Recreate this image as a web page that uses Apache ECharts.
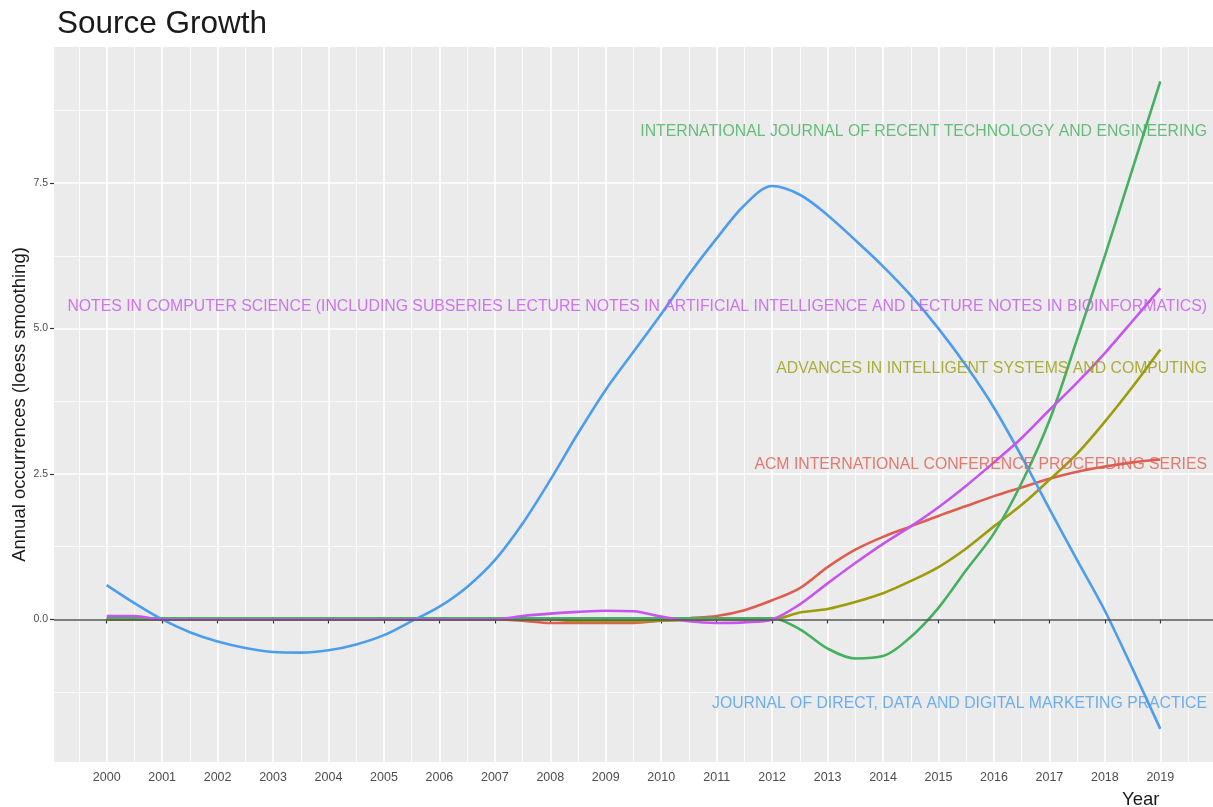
<!DOCTYPE html>
<html>
<head>
<meta charset="utf-8">
<script src="https://cdn.jsdelivr.net/npm/echarts@6/dist/echarts.min.js"></script>
<style>
html,body{margin:0;padding:0;background:#fff;}
#chart{width:1213px;height:807px;}
</style>
</head>
<body>
<div id="chart"></div>
<script>
// ---- data ----
var years = [2000,2000.5,2001,2001.5,2002,2002.5,2003,2003.5,2004,2004.5,2005,2005.5,2006,2006.5,2007,2007.5,2008,2008.5,2009,2009.5,2010,2010.5,2011,2011.5,2012,2012.5,2013,2013.5,2014,2014.5,2015,2015.5,2016,2016.5,2017,2017.5,2018,2018.5,2019];
var tickYears = [2000,2001,2002,2003,2004,2005,2006,2007,2008,2009,2010,2011,2012,2013,2014,2015,2016,2017,2018,2019];
var minorYears = [1999.5,2000.5,2001.5,2002.5,2003.5,2004.5,2005.5,2006.5,2007.5,2008.5,2009.5,2010.5,2011.5,2012.5,2013.5,2014.5,2015.5,2016.5,2017.5,2018.5,2019.5];
var yTicks = [0,2.5,5,7.5];
var yMinor = [-1.25,1.25,3.75,6.25,8.75];

var seriesNames = [
  'ACM INTERNATIONAL CONFERENCE PROCEEDING SERIES',
  'ADVANCES IN INTELLIGENT SYSTEMS AND COMPUTING',
  'INTERNATIONAL JOURNAL OF RECENT TECHNOLOGY AND ENGINEERING',
  'JOURNAL OF DIRECT, DATA AND DIGITAL MARKETING PRACTICE',
  'NOTES IN COMPUTER SCIENCE (INCLUDING SUBSERIES LECTURE NOTES IN ARTIFICIAL INTELLIGENCE AND LECTURE NOTES IN BIOINFORMATICS)'
];
var acm = [0,0,0,0,0,0,0,0,0,0,0,0,0,0,0,-0.02,-0.06,-0.06,-0.06,-0.06,-0.02,0.02,0.06,0.16,0.33,0.54,0.9,1.2,1.42,1.6,1.78,1.95,2.12,2.27,2.42,2.54,2.63,2.7,2.75];
var advances = [0,0,0,0,0,0,0,0,0,0,0,0,0,0,0,0,0,-0.03,-0.03,-0.03,-0.02,-0.01,0,0,0,0.12,0.18,0.3,0.45,0.66,0.9,1.22,1.6,1.97,2.4,2.85,3.4,4.0,4.64];
var ijrte = [0.02,0.02,0.02,0.02,0.02,0.02,0.02,0.02,0.02,0.02,0.02,0.02,0.02,0.02,0.02,0.02,0.02,0.02,0.02,0.02,0.02,0.02,0.02,0.02,0.02,-0.17,-0.5,-0.67,-0.63,-0.3,0.2,0.85,1.48,2.35,3.42,4.82,6.25,7.75,9.25];
var journal = [0.59,0.28,0.0,-0.22,-0.38,-0.49,-0.56,-0.57,-0.53,-0.43,-0.27,-0.03,0.22,0.56,1.02,1.65,2.4,3.2,3.95,4.6,5.25,5.93,6.55,7.12,7.45,7.3,6.95,6.52,6.07,5.57,5.0,4.36,3.64,2.8,1.9,1.02,0.15,-0.85,-1.88];
var lncs = [0.06,0.06,0,0,0,0,0,0,0,0,0,0,0,0,0,0.06,0.1,0.13,0.15,0.14,0.05,-0.03,-0.06,-0.05,0,0.26,0.62,0.97,1.3,1.6,1.93,2.3,2.7,3.12,3.6,4.07,4.58,5.13,5.69];
var seriesValues = [acm, advances, ijrte, journal, lncs];
var labelValues = [2.66, 4.31, 8.38, -1.45, 5.38];

// ---- style ----
var colors = ['#DD5E50', '#9C9C0C', '#45B060', '#4C9DEC', '#C655EE'];
var FONT = 'Liberation Sans, Arial, sans-serif';
var X_MIN = 1999.05, X_MAX = 2019.95, Y_MIN = -2.45, Y_MAX = 9.84;

var series = [];
seriesValues.forEach(function (vals, i) {
  var s = {
    type: 'line',
    name: seriesNames[i],
    xAxisIndex: 0, yAxisIndex: 0,
    data: years.map(function (y, k) { return [y, vals[k]]; }),
    showSymbol: false,
    smooth: 0.33,
    lineStyle: { color: colors[i], width: 2.6 },
    itemStyle: { color: colors[i] },
    silent: true,
    z: 3
  };
  if (i === 0) {
    s.markLine = {
      silent: true, symbol: 'none', animation: false,
      label: { show: false },
      lineStyle: { color: '#555555', width: 1.6, type: 'solid' },
      data: [{ yAxis: 0 }]
    };
  }
  series.push(s);
});
seriesNames.forEach(function (n, i) {
  series.push({
    type: 'scatter',
    xAxisIndex: 0, yAxisIndex: 0,
    symbolSize: 0,
    silent: true,
    z: 4,
    data: [[X_MAX, labelValues[i]]],
    label: {
      show: true, position: 'left', distance: 6,
      formatter: n, color: colors[i], fontSize: 15.8, fontFamily: FONT
    }
  });
});

var option = {
  animation: false,
  title: [
    { text: 'Source Growth', left: 52, top: 3,
      textStyle: { fontSize: 31.5, fontWeight: 'normal', color: '#1a1a1a', fontFamily: FONT } },
    { text: 'Year', left: 1117, top: 785,
      textStyle: { fontSize: 18.5, fontWeight: 'normal', color: '#1a1a1a', fontFamily: FONT } }
  ],
  grid: { left: 54, right: 0, top: 47, bottom: 45, show: true, backgroundColor: '#EBEBEB', borderWidth: 0,
    containLabel: false, outerBoundsMode: 'none' },
  xAxis: [
    { type: 'value', min: X_MIN, max: X_MAX,
      axisLine: { show: false },
      axisTick: { show: true, length: 4, customValues: tickYears, lineStyle: { color: '#333', width: 1.2 } },
      axisLabel: { customValues: tickYears, fontSize: 12.5, color: '#4d4d4d', margin: 9, fontFamily: FONT,
        formatter: function (v) { return String(Math.round(v)); } },
      splitLine: { show: true, lineStyle: { color: '#ffffff', width: 1.6 } } },
    { type: 'value', min: X_MIN, max: X_MAX, position: 'bottom',
      axisLine: { show: false },
      axisTick: { show: false, customValues: minorYears },
      axisLabel: { show: false, customValues: minorYears },
      splitLine: { show: true, lineStyle: { color: '#ffffff', width: 0.8 } } }
  ],
  yAxis: [
    { type: 'value', min: Y_MIN, max: Y_MAX,
      name: 'Annual occurrences (loess smoothing)', nameLocation: 'middle', nameGap: 25,
      nameMoveOverlap: false,
      nameTextStyle: { fontSize: 18.5, color: '#1a1a1a', fontFamily: FONT },
      axisLine: { show: false },
      axisTick: { show: true, length: 4, customValues: yTicks, lineStyle: { color: '#333', width: 1.2 } },
      axisLabel: { customValues: yTicks, fontSize: 10.5, color: '#4d4d4d', margin: 6, fontFamily: FONT,
        formatter: function (v) { return v.toFixed(1); } },
      splitLine: { show: true, lineStyle: { color: '#ffffff', width: 1.6 } } },
    { type: 'value', min: Y_MIN, max: Y_MAX, position: 'left',
      axisLine: { show: false },
      axisTick: { show: false, customValues: yMinor },
      axisLabel: { show: false, customValues: yMinor },
      splitLine: { show: true, lineStyle: { color: '#ffffff', width: 0.8 } } }
  ],
  series: series
};

var chart = echarts.init(document.getElementById('chart'), null, { renderer: 'canvas' });
chart.setOption(option);
</script>
</body>
</html>
